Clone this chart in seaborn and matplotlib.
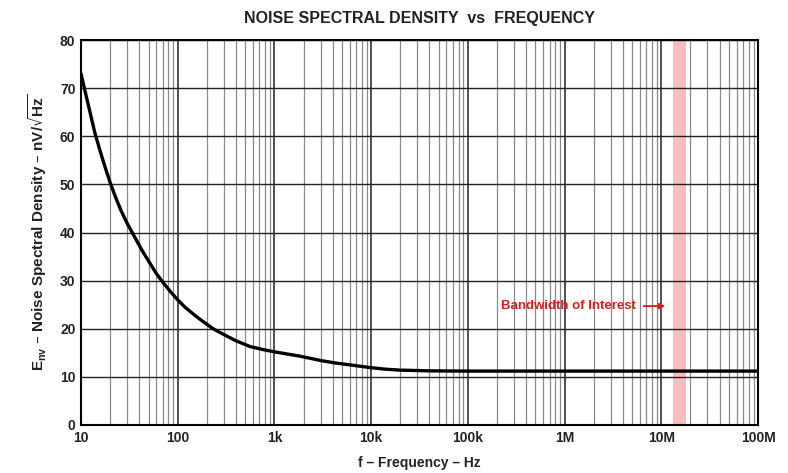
import numpy as np
import pandas as pd
import matplotlib
matplotlib.use("Agg")
import matplotlib.pyplot as plt
from matplotlib.ticker import FixedLocator, LogLocator, NullFormatter
import seaborn as sns

# values
freq_hz = [10, 11, 12, 13, 14, 16, 18, 20, 23, 26, 30, 36, 43, 52, 60, 70, 85,
           100, 120, 150, 180, 232, 300, 400, 560, 750, 1000, 1400, 1840, 3000,
           4200, 6000, 10000, 14000, 20000, 40000, 100000, 1e6, 1e7, 1e8]
noise_nv = [73, 69.4, 66.2, 63.2, 60.5, 56.5, 53.2, 50.4, 47.1, 44.5, 41.9, 39,
            36.2, 33.5, 31.5, 29.7, 27.6, 26.0, 24.4, 22.8, 21.6, 20, 18.8, 17.5,
            16.3, 15.7, 15.2, 14.7, 14.3, 13.4, 12.9, 12.5, 11.9, 11.6, 11.4,
            11.25, 11.2, 11.2, 11.2, 11.2]
x_ticks = [10, 100, 1e3, 1e4, 1e5, 1e6, 1e7, 1e8]
x_tick_labels = ["10", "100", "1k", "10k", "100k", "1M", "10M", "100M"]
y_ticks = [0, 10, 20, 30, 40, 50, 60, 70, 80]
band_lo, band_hi = 13.3e6, 18.1e6

df = pd.DataFrame({"f": freq_hz, "e": noise_nv})

sns.set_style("white")
plt.rcParams["font.family"] = ["Liberation Sans", "DejaVu Sans"]
plt.rcParams["font.weight"] = "bold"

fig = plt.figure(figsize=(7.88, 4.73), dpi=100)
ax = fig.add_axes([0.1028, 0.1015, 0.8592, 0.8139])

ax.axvspan(band_lo, band_hi, color="#f7b7b7", alpha=0.9, lw=0, zorder=0)

sns.lineplot(data=df, x="f", y="e", ax=ax, color="black", lw=2.4, zorder=5)
ax.lines[0].set_solid_joinstyle("round")

ax.set_xscale("log")
ax.set_xlim(10, 1e8)
ax.set_ylim(0, 80)
ax.xaxis.set_major_locator(FixedLocator(x_ticks))
ax.set_xticklabels(x_tick_labels)
ax.xaxis.set_minor_locator(LogLocator(base=10, subs=np.arange(2, 10), numticks=20))
ax.xaxis.set_minor_formatter(NullFormatter())
ax.set_yticks(y_ticks)

ax.grid(which="major", axis="x", color="#222222", lw=1.1, zorder=1)
ax.grid(which="minor", axis="x", color="#8a8a8a", lw=0.9, zorder=1)
ax.grid(which="major", axis="y", color="#222222", lw=1.0, zorder=1)
ax.set_axisbelow(True)

for s in ax.spines.values():
    s.set_color("black")
    s.set_linewidth(1.5)

ax.tick_params(axis="both", which="both", length=0, labelsize=10, pad=4)
for lab in ax.get_xticklabels() + ax.get_yticklabels():
    lab.set_fontweight("bold")
    lab.set_color("#222222")

ax.set_title("NOISE SPECTRAL DENSITY  vs  FREQUENCY", fontsize=11.5,
             fontweight="bold", pad=12, color="#222222")
ax.set_xlabel("f \u2013 Frequency \u2013 Hz", fontsize=10, fontweight="bold",
              labelpad=8, color="#222222")
ax.set_ylabel("$\\mathregular{E_{nv}}$ \u2013 Noise Spectral Density \u2013 nV/$\\mathregular{\\sqrt{Hz}}$",
              fontsize=11, fontweight="bold", labelpad=8, color="#222222")

ax.text(10 ** 6.74, 24.7, "Bandwidth of Interest", color="#d42020",
        fontsize=9.5, fontweight="bold", ha="right", va="center")
ax.annotate("", xy=(10 ** 7.07, 24.7), xytext=(10 ** 6.79, 24.7),
            arrowprops=dict(arrowstyle="-|>", color="#d42020", lw=1.4,
                            mutation_scale=8))

fig.savefig("out.png", dpi=100)
